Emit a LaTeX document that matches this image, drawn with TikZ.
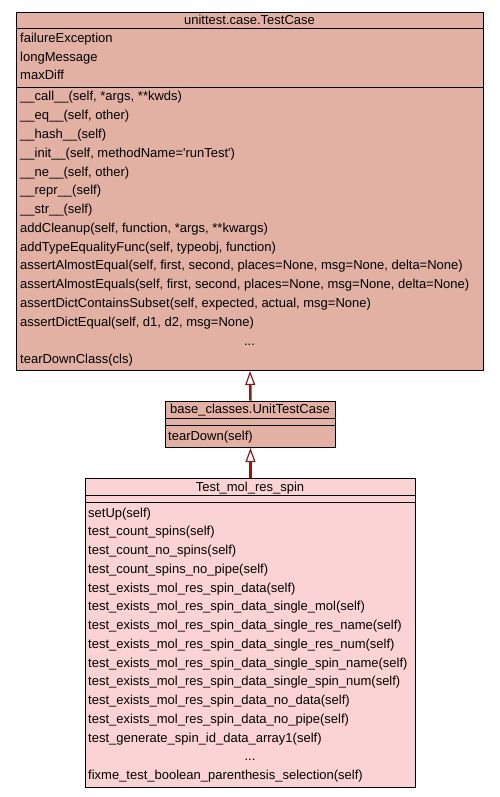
\documentclass[tikz,border=0pt]{standalone}
\usepackage{fontspec}
\setmainfont{Liberation Sans}
\usetikzlibrary{arrows.meta}
\definecolor{topfill}{RGB}{226,177,164}
\definecolor{botfill}{RGB}{252,211,212}
\definecolor{edgered}{RGB}{139,26,26}
\begin{document}
\begin{tikzpicture}[x=1pt,y=-1pt,
  box/.style={draw=black, line width=1pt, inner sep=0pt, anchor=north west},
  sep/.style={draw=black, line width=1pt},
  txt/.style={anchor=base west, inner sep=0pt, font=\fontsize{13}{15}\selectfont},
  ttl/.style={anchor=base, inner sep=0pt, font=\fontsize{13}{15}\selectfont},
  inherit/.style={draw=edgered, line width=2.5pt, -{Triangle[width=10pt,length=14pt,fill=white,line width=1.2pt]}}]
\useasboundingbox (0,0) rectangle (499,797);

% ---- unittest.case.TestCase
\node[box, fill=topfill, minimum width=467pt, minimum height=358pt] (tc) at (16,12) {};
\draw[sep] (16,29) -- (483,29);
\draw[sep] (16,88) -- (483,88);
\node[ttl] (tctitle) at (249.5,24.5) {unittest.case.TestCase};
\foreach \t [count=\i from 0] in {failureException, longMessage, maxDiff}
  \node[txt] (tca\i) at (20,{38.3+18.4*\i+4.5}) {\t};
\foreach \t [count=\i from 0] in {
  {\_\_call\_\_(self, *args, **kwds)},
  {\_\_eq\_\_(self, other)},
  {\_\_hash\_\_(self)},
  {\_\_init\_\_(self, methodName=\textquotesingle runTest\textquotesingle)},
  {\_\_ne\_\_(self, other)},
  {\_\_repr\_\_(self)},
  {\_\_str\_\_(self)},
  {addCleanup(self, function, *args, **kwargs)},
  {addTypeEqualityFunc(self, typeobj, function)},
  {assertAlmostEqual(self, first, second, places=None, msg=None, delta=None)},
  {assertAlmostEquals(self, first, second, places=None, msg=None, delta=None)},
  {assertDictContainsSubset(self, expected, actual, msg=None)},
  {assertDictEqual(self, d1, d2, msg=None)}}
  \node[txt] (tcm\i) at (20,{96.5+18.77*\i+4.5}) {\t};
\node[ttl] (tcdots) at (249.5,{96.5+18.77*13+4.5}) {...};
\node[txt] (tclast) at (20,{96.5+18.77*14+4.5}) {tearDownClass(cls)};

% ---- base_classes.UnitTestCase
\node[box, fill=topfill, minimum width=170pt, minimum height=46.3pt] (utc) at (165,400.7) {};
\draw[sep] (165,418) -- (335,418);
\draw[sep] (165,425.7) -- (335,425.7);
\node[ttl] (utctitle) at (250,{409.3+4.5}) {base\_classes.UnitTestCase};
\node[txt] (utcm0) at (168,{436+4.5}) {tearDown(self)};

% ---- Test_mol_res_spin
\node[box, fill=botfill, minimum width=330pt, minimum height=309pt] (tmrs) at (85,478) {};
\draw[sep] (85,495) -- (415,495);
\draw[sep] (85,502.5) -- (415,502.5);
\node[ttl] (tmrstitle) at (250,{486.5+4.5}) {Test\_mol\_res\_spin};
\foreach \t [count=\i from 0] in {
  setUp(self),
  test\_count\_spins(self),
  test\_count\_no\_spins(self),
  test\_count\_spins\_no\_pipe(self),
  test\_exists\_mol\_res\_spin\_data(self),
  test\_exists\_mol\_res\_spin\_data\_single\_mol(self),
  test\_exists\_mol\_res\_spin\_data\_single\_res\_name(self),
  test\_exists\_mol\_res\_spin\_data\_single\_res\_num(self),
  test\_exists\_mol\_res\_spin\_data\_single\_spin\_name(self),
  test\_exists\_mol\_res\_spin\_data\_single\_spin\_num(self),
  test\_exists\_mol\_res\_spin\_data\_no\_data(self),
  test\_exists\_mol\_res\_spin\_data\_no\_pipe(self),
  test\_generate\_spin\_id\_data\_array1(self)}
  \node[txt] (tmrsm\i) at (88,{512.5+18.75*\i+4.5}) {\t};
\node[ttl] (tmrsdots) at (250,{512.5+18.75*13+4.5}) {...};
\node[txt] (tmrslast) at (88,{512.5+18.75*14+4.5}) {fixme\_test\_boolean\_parenthesis\_selection(self)};

% ---- inheritance
\draw[inherit] (utc.north) -- (tc.south);
\draw[inherit] (tmrs.north) -- (utc.south);
\end{tikzpicture}
\end{document}
